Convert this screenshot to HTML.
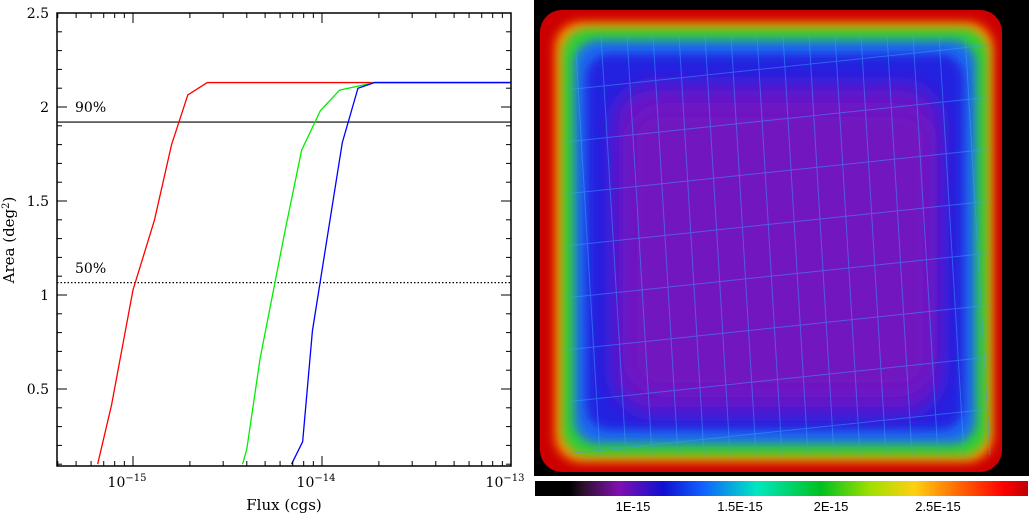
<!DOCTYPE html>
<html><head><meta charset="utf-8"><style>
body{margin:0;background:#fff;width:1029px;height:514px;overflow:hidden}
svg text{font-family:"DejaVu Serif","Liberation Serif",serif}
</style></head><body>
<svg width="1029" height="514" viewBox="0 0 1029 514">
<defs>
<linearGradient id="cb" x1="0" x2="1" y1="0" y2="0">
<stop offset="0" stop-color="#000"/><stop offset="0.07" stop-color="#000"/>
<stop offset="0.1" stop-color="#301030"/><stop offset="0.17" stop-color="#8010b0"/>
<stop offset="0.26" stop-color="#1010d0"/><stop offset="0.34" stop-color="#1060ff"/>
<stop offset="0.45" stop-color="#00e8c0"/><stop offset="0.58" stop-color="#00c020"/>
<stop offset="0.68" stop-color="#a0e000"/><stop offset="0.77" stop-color="#ffd010"/>
<stop offset="0.88" stop-color="#ff5000"/><stop offset="0.95" stop-color="#ff0000"/>
<stop offset="1" stop-color="#c00000"/></linearGradient>
<filter id="bl"><feGaussianBlur stdDeviation="5"/></filter>
<filter id="bl2"><feGaussianBlur stdDeviation="10"/></filter>
</defs>
<g id="left"></g>
<g>
<rect x="534" y="0" width="495" height="476" fill="#000"/>
<rect x="540" y="10" width="462" height="462" rx="22" fill="#cc0000"/>
<rect x="555" y="22" width="438" height="440" rx="26" fill="#ff9000" filter="url(#bl)"/>
<rect x="562" y="28" width="426" height="428" rx="26" fill="#30d030" filter="url(#bl)"/>
<rect x="574" y="40" width="402" height="404" rx="24" fill="#1a6cf0" filter="url(#bl)"/>
<rect x="586" y="54" width="378" height="376" rx="24" fill="#2424e0" filter="url(#bl)"/>
<rect x="612" y="84" width="330" height="330" rx="40" fill="#6812c8" filter="url(#bl2)"/>
<rect x="630" y="110" width="300" height="280" rx="30" fill="#7214c0" filter="url(#bl2)"/>
<g id="grid" stroke="#3aa0ff" stroke-width="1" opacity="0.5"></g>
<rect x="534" y="477" width="495" height="2" fill="#fff"/>
<rect x="535" y="481" width="493" height="15" fill="url(#cb)"/>
<g font-size="13" fill="#000">
<text x="633" y="511" text-anchor="middle" style="font-family:'Liberation Sans',sans-serif">1E-15</text>
<text x="740" y="511" text-anchor="middle" style="font-family:'Liberation Sans',sans-serif">1.5E-15</text>
<text x="831" y="511" text-anchor="middle" style="font-family:'Liberation Sans',sans-serif">2E-15</text>
<text x="938" y="511" text-anchor="middle" style="font-family:'Liberation Sans',sans-serif">2.5E-15</text>
</g>
</g>
</svg>
<script>
const redFlux=[6.5e-16,7.7e-16,1.0e-15,1.3e-15,1.6e-15,1.95e-15,2.47e-15,1e-13];
const redArea=[0.1,0.415,1.027,1.40,1.80,2.064,2.13,2.13];
const greenFlux=[3.8e-15,4.0e-15,4.7e-15,6.4e-15,7.8e-15,9.8e-15,1.24e-14,1.9e-14,1e-13];
const greenArea=[0.1,0.18,0.66,1.35,1.77,1.98,2.09,2.13,2.13];
const blueFlux=[6.9e-15,7.9e-15,8.9e-15,1.28e-14,1.55e-14,1.9e-14,1e-13];
const blueArea=[0.1,0.22,0.81,1.81,2.10,2.13,2.13];
const yTicks=[0.5,1,1.5,2,2.5];
const yTickLabels=["0.5","1","1.5","2","2.5"];
const xDecades=[-15,-14,-13];
const line90=1.92, line50=1.066;
const L=57,R=511,T=13,B=466;
const xs=f=>133+(Math.log10(f)+15)*189;
const ys=a=>T+(2.5-a)*188;
const NS='http://www.w3.org/2000/svg';
const g=document.getElementById('left');
function mk(t,a,p){const e=document.createElementNS(NS,t);for(const k in a)e.setAttribute(k,a[k]);(p||g).appendChild(e);return e;}
const clip=mk('clipPath',{id:'pc'});mk('rect',{x:L,y:T,width:R-L,height:B-T},clip);
function series(fx,ar,col,name){const p=mk('polyline',{points:fx.map((f,i)=>xs(f)+','+ys(ar[i])).join(' '),fill:'none',stroke:col,'stroke-width':1.3,'clip-path':'url(#pc)'});

}
let h=mk('line',{x1:L,x2:R,y1:ys(line90),y2:ys(line90),stroke:'#000','stroke-width':1.2});


h=mk('line',{x1:L,x2:R,y1:ys(line50),y2:ys(line50),stroke:'#000','stroke-width':1.2,'stroke-dasharray':'1.5 2'});


series(redFlux,redArea,'#ff0000','red-curve');
series(greenFlux,greenArea,'#00ee00','green-curve');
series(blueFlux,blueArea,'#0000ff','blue-curve');
const fr=mk('rect',{x:L,y:T,width:R-L,height:B-T,fill:'none',stroke:'#000','stroke-width':1.5});


for(let v=0.1;v<=2.5001;v+=0.1){const y=ys(v);const major=Math.abs(v*2-Math.round(v*2))<1e-6;const len=major?10:5;
mk('line',{x1:L,x2:L+len,y1:y,y2:y,stroke:'#000'});mk('line',{x1:R,x2:R-len,y1:y,y2:y,stroke:'#000'});}
yTicks.forEach((v,i)=>{const t=mk('text',{x:L-8,y:ys(v)+5,'text-anchor':'end','font-size':14});t.textContent=yTickLabels[i];

});
for(let d=-16;d<=-13;d++){for(let m=1;m<10;m++){const f=m*Math.pow(10,d);const x=xs(f);if(x<L-0.5||x>R+0.5)continue;const len=m==1?10:5;
mk('line',{x1:x,x2:x,y1:B,y2:B-len,stroke:'#000'});mk('line',{x1:x,x2:x,y1:T,y2:T+len,stroke:'#000'});}}
xDecades.forEach(d=>{const t=mk('text',{x:xs(Math.pow(10,d))-6,y:487,'text-anchor':'middle','font-size':14});t.innerHTML='10<tspan dy="-6" font-size="10">'+(d<0?'\u2212':'')+Math.abs(d)+'</tspan>';

});
let t=mk('text',{x:284,y:510,'text-anchor':'middle','font-size':15});t.textContent='Flux (cgs)';


t=mk('text',{x:14,y:240,'text-anchor':'middle','font-size':15,transform:'rotate(-90 14 240)'});t.innerHTML='Area (deg<tspan dy="-5" font-size="10">2</tspan><tspan dy="5">)</tspan>';


t=mk('text',{x:75,y:112,'font-size':14});t.textContent='90%';


t=mk('text',{x:75,y:273,'font-size':14});t.textContent='50%';


const gg=document.getElementById('grid');
for(let i=0;i<16;i++){const x=575+i*26;mk('line',{x1:x,y1:35,x2:x+25,y2:455},gg);}
for(let i=0;i<8;i++){const y=70+i*52;mk('line',{x1:565,y1:y+20,x2:990,y2:y-25},gg);}
</script>
</body></html>
